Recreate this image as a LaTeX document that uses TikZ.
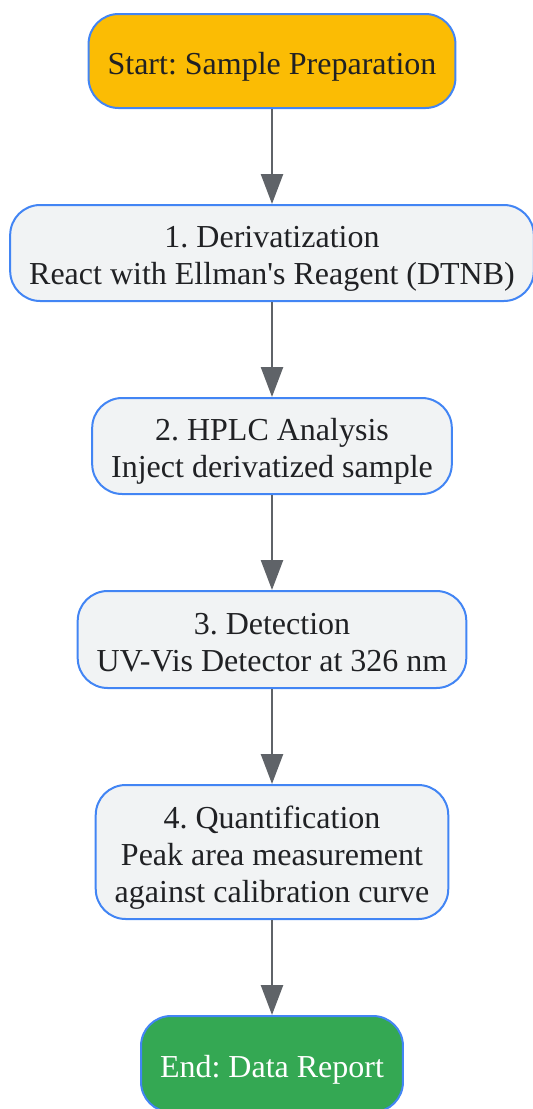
\documentclass[tikz,border=0pt]{standalone}
\usepackage{fontspec}
\setmainfont{Liberation Serif}[Ligatures=TeXOff]
\usetikzlibrary{positioning, arrows.meta}
\definecolor{startyellow}{HTML}{FBBC04}
\definecolor{endgreen}{HTML}{34A853}
\definecolor{stepgray}{HTML}{F1F3F4}
\definecolor{edgeblue}{HTML}{4285F4}
\definecolor{arrowgray}{HTML}{5F6368}
\definecolor{textdark}{HTML}{202124}
\tikzstyle{boxtext} = [inner xsep=19pt, align=center, font=\fontsize{32}{37}\selectfont\frenchspacing, text height=34pt, text depth=8pt]
\tikzstyle{startstop} = [rectangle, rounded corners=30pt, boxtext, line width=2pt, draw=edgeblue, text=textdark]
\tikzstyle{process} = [rectangle, rounded corners=30pt, boxtext, line width=2pt, draw=edgeblue, fill=stepgray, text=textdark]
\tikzstyle{arrow} = [line width=2.5pt, draw=arrowgray, -{Triangle[width=22pt,length=30pt]}]
\begin{document}
\begin{tikzpicture}[x=1pt, y=1pt, node distance=95pt]
        \useasboundingbox (0,0) rectangle (533,-1109);
        % Nodes
        \node (prep) [startstop, fill=startyellow, minimum height=94pt] at (272,-61) {Start: Sample Preparation};
        \node (deriv) [process, below=of prep, minimum height=96pt, text height=71pt] {1. Derivatization\\React with Ellman's Reagent (DTNB)};
        \node (hplc) [process, below=of deriv, minimum height=96pt, text height=71pt] {2. HPLC Analysis\\Inject derivatized sample};
        \node (detect) [process, below=of hplc, minimum height=97pt, text height=71pt] {3. Detection\\UV-Vis Detector at 326 nm};
        \node (quant) [process, below=of detect, minimum height=134pt, text height=108pt] {4. Quantification\\Peak area measurement\\against calibration curve};
        \node (report) [startstop, fill=endgreen, text=white, below=of quant, minimum height=96pt] {End: Data Report};

        % Arrows
        \draw [arrow] (prep) -- (deriv);
        \draw [arrow] (deriv) -- (hplc);
        \draw [arrow] (hplc) -- (detect);
        \draw [arrow] (detect) -- (quant);
        \draw [arrow] (quant) -- (report);
    \end{tikzpicture}
\end{document}
